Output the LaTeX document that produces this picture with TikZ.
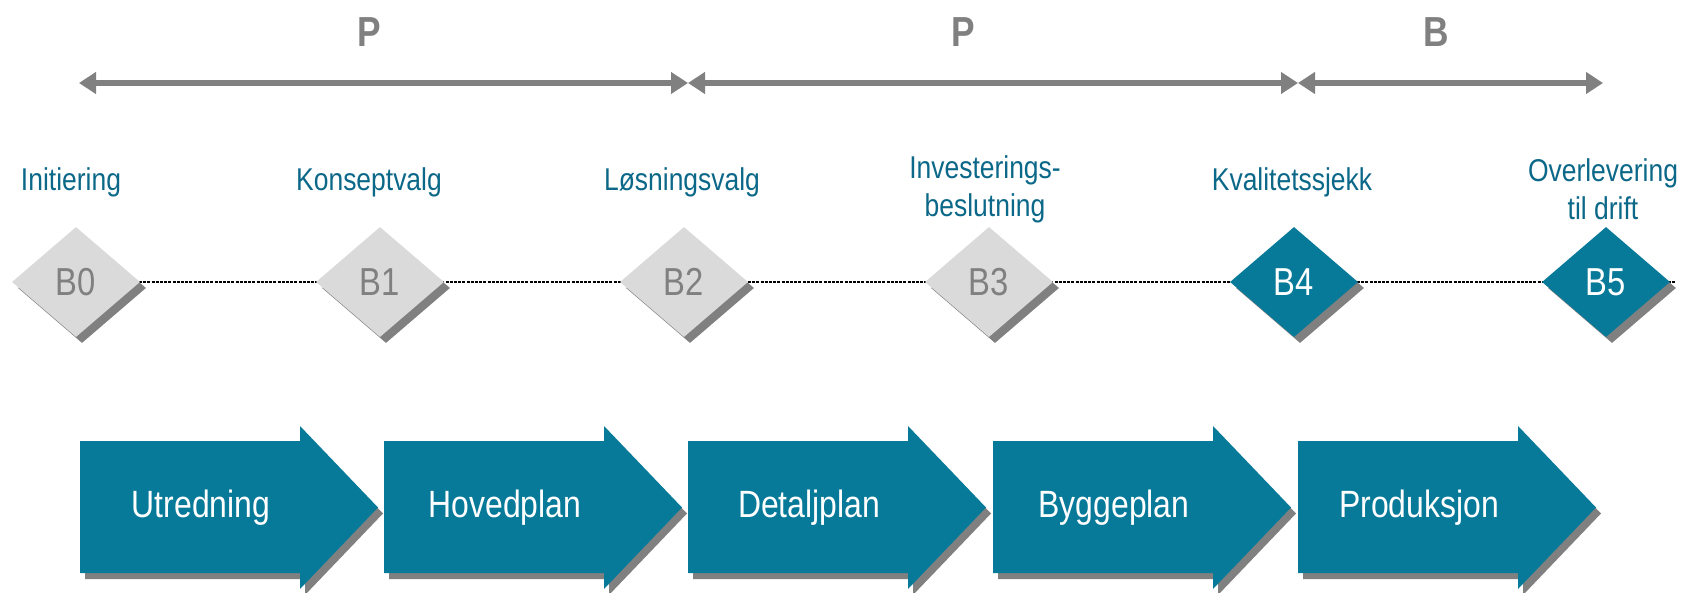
\documentclass[tikz,border=0pt]{standalone}
\usepackage{fontspec}
\setmainfont{Liberation Sans}[FakeStretch=0.84]
\usetikzlibrary{arrows.meta,shapes.geometric,shadows,backgrounds}
\definecolor{teal1}{RGB}{7,122,153}
\definecolor{tealtxt}{RGB}{12,104,136}
\definecolor{lgray}{RGB}{218,218,218}
\definecolor{mgray}{RGB}{128,128,128}
\tikzset{
  phase/.style={line width=6pt,draw=mgray,{Triangle[length=17pt,width=21pt]}-{Triangle[length=17pt,width=21pt]}},
  phaseletter/.style={font=\bfseries\fontsize{42}{42}\selectfont,text=mgray,inner sep=0pt},
  gate/.style={diamond,minimum width=128pt,minimum height=110pt,inner sep=0pt,
    font=\fontsize{39}{39}\selectfont,
    drop shadow={shadow xshift=6pt,shadow yshift=-6pt,fill=mgray,opacity=1}},
  gategray/.style={gate,fill=lgray,text=mgray},
  gateteal/.style={gate,fill=teal1,text=white},
  gatelabel/.style={font=\fontsize{31.5}{38}\selectfont,text=tealtxt,align=center,inner sep=0pt},
  stagebox/.style={fill=teal1},
  stageshadow/.style={fill=mgray},
  stagetext/.style={font=\fontsize{38}{38}\selectfont,text=white,inner sep=0pt},
  dotline/.style={line width=2.2pt,dash pattern=on 3pt off 1.2pt,black}
}
\begin{document}
\begin{tikzpicture}[x=1pt,y=-1pt]
\useasboundingbox (0,0) rectangle (1686,593);
% top phase arrows
\coordinate (t0) at (79,83);
\coordinate (t1) at (688,83);
\coordinate (t2) at (1298,83);
\coordinate (t3) at (1603,83);
\draw[phase] (t0) -- (t1);
\draw[phase] (t1) -- (t2);
\draw[phase] (t2) -- (t3);
\node[phaseletter] (p1) at (369,32) {P};
\node[phaseletter] (p2) at (963,32) {P};
\node[phaseletter] (p3) at (1436,32) {B};
% gates
\node[gategray] (b0) at (76,282) {B0};
\node[gategray] (b1) at (380,282) {B1};
\node[gategray] (b2) at (684,282) {B2};
\node[gategray] (b3) at (989,282) {B3};
\node[gateteal] (b4) at (1294,282) {B4};
\node[gateteal] (b5) at (1606,282) {B5};
\coordinate (lineend) at (1676,282);
\begin{scope}[on background layer]
\draw[dotline] (b0.center) -- (lineend);
\end{scope}
% gate labels
\node[gatelabel] (l0) at (71,182) {Initiering};
\node[gatelabel] (l1) at (369,182) {Konseptvalg};
\node[gatelabel] (l2) at (682,182) {Løsningsvalg};
\node[gatelabel] (l3) at (985,189) {Investerings-\\beslutning};
\node[gatelabel] (l4) at (1292,182) {Kvalitetssjekk};
\node[gatelabel] (l5) at (1603,189) {Overlevering\\til drift};
% stage arrows
\foreach \L/\name/\txt in {80/s0/Utredning,384/s1/Hovedplan,688/s2/Detaljplan,993/s3/Byggeplan,1298/s4/Produksjon}{
  \begin{scope}[shift={(5,6)}]
    \fill[stageshadow] (\L,441) -- (\L+220,441) -- (\L+220,426) -- (\L+298,507.5) -- (\L+220,589) -- (\L+220,573) -- (\L,573) -- cycle;
  \end{scope}
  \fill[stagebox] (\L,441) -- (\L+220,441) -- (\L+220,426) -- (\L+298,507.5) -- (\L+220,589) -- (\L+220,573) -- (\L,573) -- cycle;
  \node[stagetext] (\name) at (\L+121,508) {\txt};
}
\end{tikzpicture}
\end{document}
